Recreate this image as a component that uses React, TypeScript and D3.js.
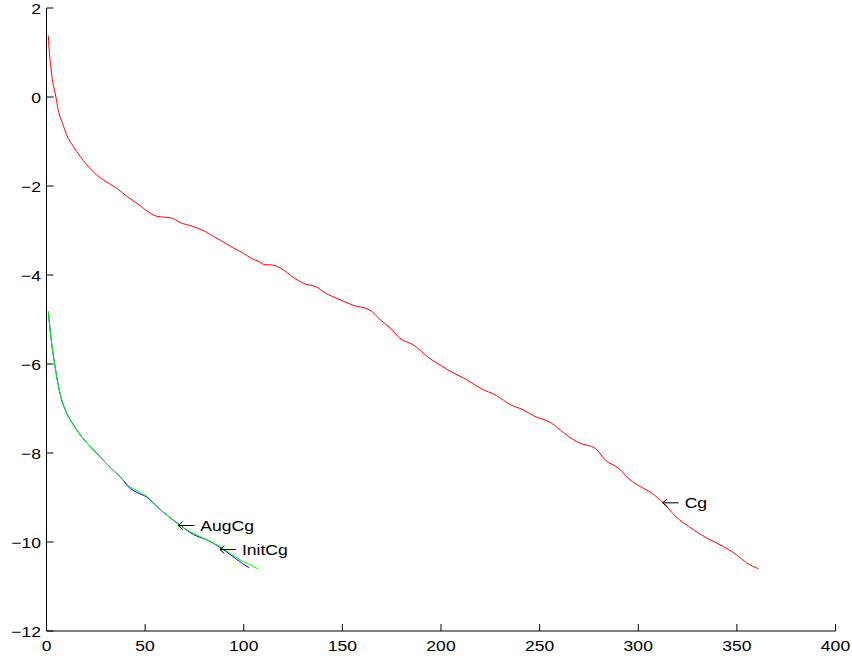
import React from "react";
import * as d3 from "d3";

const xTicks = [0, 50, 100, 150, 200, 250, 300, 350, 400];
const yTicks = [2, 0, -2, -4, -6, -8, -10, -12];

const cgX = [0.9, 1.5, 2.3, 2.9, 4.7, 6.0, 8.2, 10.2, 13.6, 17.0, 20.4, 25.4, 30.5, 35.6, 40.7, 47.4, 52.5, 55.9, 63.5, 67.7, 74.4, 80.4, 84.6, 87.9, 94.7, 99.8, 104.0, 107.4, 110.8, 113.3, 120.0, 124.3, 131.1, 137.0, 141.2, 148.0, 155.5, 164.0, 169.1, 174.7, 179.2, 186.0, 194.4, 199.5, 206.2, 213.0, 219.8, 228.2, 235.0, 241.7, 246.8, 256.1, 262.0, 267.1, 270.5, 278.1, 283.1, 289.9, 295.8, 300.9, 306.8, 312.7, 318.6, 327.9, 334.7, 343.1, 349.9, 355.0, 360.9];
const cgY = [1.38, 0.98, 0.64, 0.42, 0.02, -0.3, -0.6, -0.85, -1.11, -1.33, -1.52, -1.75, -1.91, -2.05, -2.23, -2.44, -2.61, -2.68, -2.72, -2.82, -2.91, -3.02, -3.13, -3.21, -3.39, -3.51, -3.63, -3.69, -3.77, -3.77, -3.88, -4.03, -4.20, -4.27, -4.40, -4.54, -4.68, -4.79, -5.00, -5.21, -5.42, -5.57, -5.88, -6.02, -6.20, -6.35, -6.54, -6.71, -6.91, -7.03, -7.16, -7.33, -7.54, -7.70, -7.78, -7.89, -8.15, -8.34, -8.60, -8.75, -8.90, -9.12, -9.41, -9.72, -9.91, -10.10, -10.29, -10.47, -10.60];

const augX = [0.9, 2.6, 4.3, 6.8, 10.2, 13.6, 17.8, 22.1, 27.1, 33.1, 37.3, 41.5, 46.5, 50.8, 55.9, 60.9, 67.7, 74.4, 81.2, 88.0, 93.0, 98.1, 102.8, 107.4];
const augY = [-4.82, -5.53, -6.05, -6.65, -7.10, -7.36, -7.63, -7.85, -8.08, -8.36, -8.53, -8.73, -8.86, -8.97, -9.20, -9.39, -9.63, -9.80, -9.95, -10.10, -10.25, -10.40, -10.50, -10.61];

const initX = [0.9, 2.6, 4.3, 6.8, 10.2, 13.6, 17.8, 22.1, 27.1, 33.1, 37.3, 41.5, 46.5, 50.8, 55.9, 60.9, 67.7, 74.4, 81.2, 88.0, 93.0, 98.1, 100.5, 102.8];
const initY = [-4.82, -5.53, -6.05, -6.65, -7.10, -7.36, -7.63, -7.85, -8.08, -8.36, -8.53, -8.76, -8.90, -8.99, -9.20, -9.39, -9.62, -9.83, -9.95, -10.12, -10.28, -10.44, -10.52, -10.58];

const labels = ["AugCg", "InitCg", "Cg"];
const labelX = [66.8, 87.9, 312.4];
const labelY = [-9.63, -10.17, -9.12];

const W = 852;
const H = 660;
const FONT = "'Liberation Sans', Arial, Helvetica, 'DejaVu Sans', sans-serif";
const SX = 1.17;

export default function App() {
  const x = d3.scaleLinear().domain([0, 400]).range([46.5, 835.5]);
  const y = d3.scaleLinear().domain([-12, 2]).range([631, 8]);
  const line = (xs: number[], ys: number[]) =>
    d3
      .line<number>()
      .curve(d3.curveMonotoneX)
      .x((_, i) => x(xs[i]))
      .y((d) => y(d))(ys) || "";

  const x0 = x(0);
  const yb = y(-12);
  const tickLen = 7;

  return (
    <svg
      width={W}
      height={H}
      style={{ position: "absolute", left: 0, top: 0, background: "#fff" }}
    >
      <rect x={0} y={0} width={W} height={H} fill="#fff" />
      <path d={line(cgX, cgY)} fill="none" stroke="#ff0000" strokeWidth={1} />
      <path d={line(initX, initY)} fill="none" stroke="#0000ff" strokeWidth={1} />
      <path d={line(augX, augY)} fill="none" stroke="#00ff00" strokeWidth={1} />

      {/* axes */}
      <line x1={x0} x2={x0} y1={y(2)} y2={yb} stroke="#000" strokeWidth={1} />
      <line x1={x0} x2={x(400)} y1={yb} y2={yb} stroke="#000" strokeWidth={1} />
      {yTicks.map((t) => (
        <g key={"y" + t}>
          <line x1={x0} x2={x0 + tickLen} y1={y(t)} y2={y(t)} stroke="#000" strokeWidth={1} />
          <text
            transform={`translate(41,${y(t) + 5.5}) scale(${SX},1)`}
            textAnchor="end"
            fontFamily={FONT}
            fontSize={15}
            fill="#000"
          >
            {t < 0 ? "\u2212" + Math.abs(t) : String(t)}
          </text>
        </g>
      ))}
      {xTicks.map((t) => (
        <g key={"x" + t}>
          <line x1={x(t)} x2={x(t)} y1={yb} y2={yb - tickLen} stroke="#000" strokeWidth={1} />
          <text
            transform={`translate(${x(t)},651) scale(${SX},1)`}
            textAnchor="middle"
            fontFamily={FONT}
            fontSize={15}
            fill="#000"
          >
            {String(t)}
          </text>
        </g>
      ))}

      {labels.map((l, i) => {
        const tx = x(labelX[i]);
        const ty = y(labelY[i]);
        return (
          <g key={l}>
            <path
              d={`M${tx + 16},${ty} L${tx},${ty} M${tx + 4.5},${ty - 4} L${tx},${ty} L${tx + 4.5},${ty + 4}`}
              fill="none"
              stroke="#000"
              strokeWidth={1}
            />
            <text
              transform={`translate(${tx + 22},${ty + 5}) scale(${SX},1)`}
              fontFamily={FONT}
              fontSize={15}
              fill="#000"
            >
              {l}
            </text>
          </g>
        );
      })}
    </svg>
  );
}
